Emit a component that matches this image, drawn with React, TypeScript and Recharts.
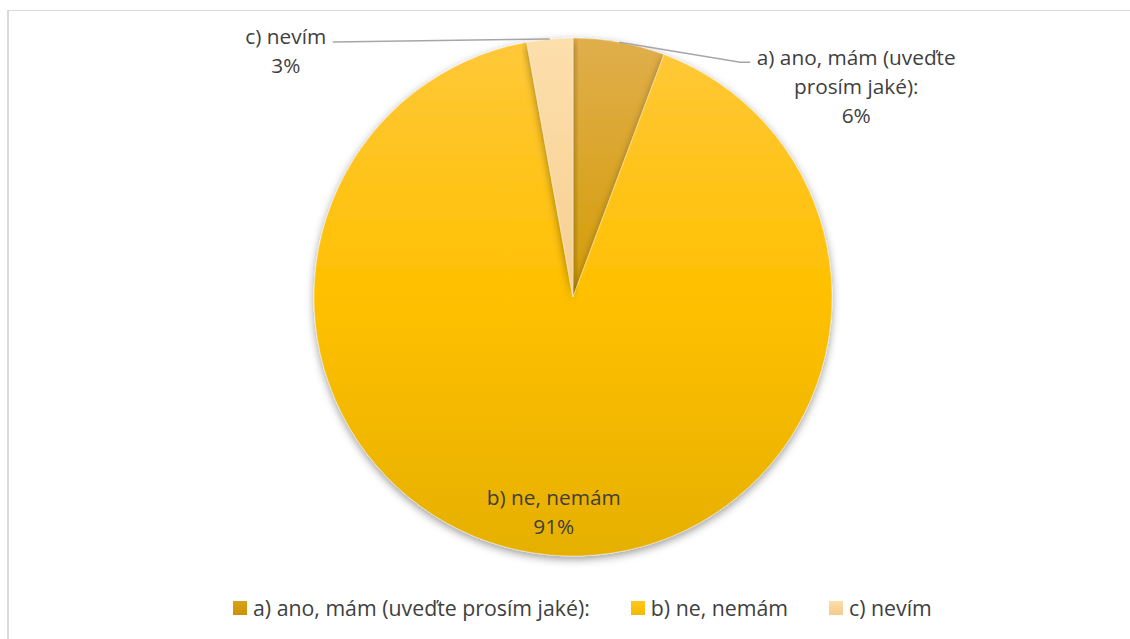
import React from "react";
import { PieChart, Pie, Cell, Legend } from "recharts";

const categories = ["a) ano, mám (uveďte prosím jaké):", "b) ne, nemám", "c) nevím"];
const values = [4, 64, 2];
const percentLabels = ["6%", "91%", "3%"];
const labelLines: string[][] = [["a) ano, mám (uveďte", "prosím jaké):"], ["b) ne, nemám"], ["c) nevím"]];

const gradients = [
  { id: "gA", top: "#E0AE4C", mid: "#D49D06", bottom: "#C08A00" },
  { id: "gB", top: "#FFC83A", mid: "#FFC000", bottom: "#E6B000" },
  { id: "gC", top: "#FDDFAC", mid: "#F6CF90", bottom: "#E8BE78" },
];
const legendColors = [
  ["#D9A21E", "#CC9300"],
  ["#FFC61E", "#F5BA00"],
  ["#FEDDAA", "#F3CB8C"],
];

const data = categories.map((name, i) => ({ name, value: values[i] }));

const RAD = Math.PI / 180;
const FONT = "'Open Sans', sans-serif";
const TEXT = "#404040";
const FS = 20.8;
const LEGEND_FS = 21.3;

function pt(cx: number, cy: number, r: number, angle: number) {
  return [cx + r * Math.cos(-angle * RAD), cy + r * Math.sin(-angle * RAD)];
}

const renderLabel = (props: any) => {
  const { cx, cy, midAngle, outerRadius, index } = props;
  const lines = [...labelLines[index], percentLabels[index]];
  if (index === 1) {
    const [x, y] = pt(cx, cy, outerRadius * 0.83, midAngle);
    return (
      <g>
        {lines.map((l, i) => (
          <text key={i} x={x} y={y + (i - (lines.length - 1) / 2) * 29} textAnchor="middle" dominantBaseline="central" fill={TEXT} fontSize={FS} fontFamily={FONT}>
            {l}
          </text>
        ))}
      </g>
    );
  }
  const [sx, sy] = pt(cx, cy, outerRadius, midAngle);
  if (index === 0) {
    const ex = sx + 121;
    const ey = sy + 20;
    const tx = ex + 116;
    const ty = ey - 5;
    return (
      <g>
        <polyline points={`${sx},${sy} ${ex},${ey} ${ex + 10},${ey}`} fill="none" stroke="#A6A6A6" strokeWidth={1.5} />
        {lines.map((l, i) => (
          <text key={i} x={tx} y={ty + i * 29} textAnchor="middle" dominantBaseline="central" fill={TEXT} fontSize={FS} fontFamily={FONT}>
            {l}
          </text>
        ))}
      </g>
    );
  }
  const ex = sx - 217;
  const ey = sy + 3;
  const tx = ex - 47;
  const ty = ey - 6;
  return (
    <g>
      <polyline points={`${sx},${sy} ${ex},${ey}`} fill="none" stroke="#A6A6A6" strokeWidth={1.5} />
      {lines.map((l, i) => (
        <text key={i} x={tx} y={ty + i * 28.5} textAnchor="middle" dominantBaseline="central" fill={TEXT} fontSize={FS} fontFamily={FONT}>
          {l}
        </text>
      ))}
    </g>
  );
};

const renderLegend = () => (
  <div style={{ display: "flex", alignItems: "center", whiteSpace: "nowrap", fontFamily: FONT, fontSize: LEGEND_FS, color: TEXT, lineHeight: "26px" }}>
    {categories.map((c, i) => (
      <div key={i} style={{ display: "flex", alignItems: "center", marginRight: i < categories.length - 1 ? 41 : 0 }}>
        <div style={{ width: 14, height: 14, marginRight: 6, background: `linear-gradient(${legendColors[i][0]}, ${legendColors[i][1]})` }} />
        <span>{c}</span>
      </div>
    ))}
  </div>
);

export default function App() {
  return (
    <div style={{ position: "fixed", left: 0, top: 0, width: 1130, height: 639, overflow: "hidden", background: "#fff" }}>
      <div style={{ position: "absolute", left: 7, top: 10, width: 1200, height: 700, borderTop: "1px solid #d9d9d9", borderLeft: "2px solid #d9d9d9" }} />
      <div style={{ position: "absolute", left: 0, top: 0 }}>
        <PieChart width={1130} height={639} margin={{ top: 0, right: 0, bottom: 0, left: 0 }}>
          <defs>
            {gradients.map((g) => (
              <linearGradient key={g.id} id={g.id} gradientUnits="userSpaceOnUse" x1="0" y1="38" x2="0" y2="556">
                <stop offset="0" stopColor={g.top} />
                <stop offset="0.5" stopColor={g.mid} />
                <stop offset="1" stopColor={g.bottom} />
              </linearGradient>
            ))}
            <filter id="pieShadow" x="-10%" y="-10%" width="120%" height="120%">
              <feDropShadow dx="0" dy="3" stdDeviation="4" floodColor="#000" floodOpacity="0.4" />
            </filter>
          </defs>
          <Pie
            data={data}
            dataKey="value"
            nameKey="name"
            cx={573}
            cy={297}
            outerRadius={259}
            startAngle={90}
            endAngle={-270}
            isAnimationActive={false}
            label={renderLabel}
            labelLine={false}
            stroke="rgba(255,255,255,0.5)"
            strokeWidth={0.7}
            style={{ filter: "url(#pieShadow)" }}
          >
            {data.map((d, i) => (
              <Cell key={d.name} fill={`url(#${gradients[i].id})`} />
            ))}
          </Pie>
          <Legend content={renderLegend} wrapperStyle={{ left: 233, top: 595, width: 760, height: 26 }} />
        </PieChart>
      </div>
    </div>
  );
}
